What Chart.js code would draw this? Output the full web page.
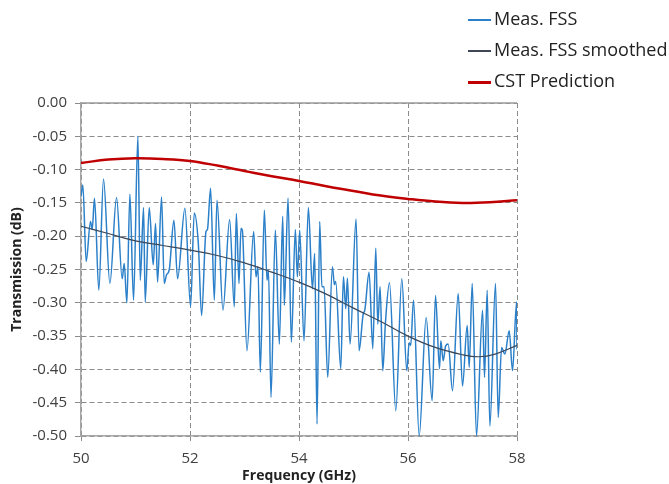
<!DOCTYPE html>
<html>
<head>
<meta charset="utf-8">
<script src="https://cdn.jsdelivr.net/npm/chart.js@4"></script>
<style>
  html, body { margin: 0; padding: 0; background: #fff; }
  #wrap { position: relative; width: 669px; height: 484px; }
  #legend { position: absolute; left: 468px; top: 3px; font-family: "Open Sans", sans-serif; font-size: 18px; color: #222; }
  #legend div { height: 31px; line-height: 30px; white-space: nowrap; }
  #legend span.sw { display: inline-block; width: 23px; vertical-align: middle; margin-right: 3px; }
</style>
</head>
<body>
<div id="wrap">
  <canvas id="chart" width="669" height="484"></canvas>
  <div id="legend"></div>
</div>
<script>
const measFreq = [
  50.000, 50.034, 50.095, 50.174, 50.205, 50.248, 50.327, 50.413, 50.530, 50.652,
  50.756, 50.793, 50.842, 50.897, 50.964, 51.044, 51.087, 51.148, 51.178, 51.252,
  51.325, 51.368, 51.405, 51.478, 51.527, 51.570, 51.620, 51.705, 51.772, 51.907,
  52.011, 52.078, 52.152, 52.213, 52.293, 52.320, 52.378, 52.446, 52.495, 52.605,
  52.727, 52.813, 52.850, 52.899, 52.935, 52.960, 53.045, 53.168, 53.211, 53.247,
  53.290, 53.364, 53.413, 53.440, 53.486, 53.566, 53.639, 53.701, 53.731, 53.799,
  53.860, 53.933, 53.970, 54.013, 54.092, 54.172, 54.246, 54.288, 54.331, 54.380,
  54.420, 54.460, 54.527, 54.613, 54.650, 54.674, 54.766, 54.815, 54.858, 54.888,
  54.937, 55.047, 55.102, 55.180, 55.205, 55.286, 55.354, 55.409, 55.445, 55.488,
  55.537, 55.586, 55.660, 55.776, 55.886, 55.978, 56.021, 56.050, 56.101, 56.205,
  56.333, 56.443, 56.505, 56.578, 56.602, 56.645, 56.690, 56.737, 56.817, 56.921,
  57.000, 57.086, 57.123, 57.178, 57.257, 57.368, 57.404, 57.453, 57.502, 57.606,
  57.655, 57.717, 57.778, 57.857, 57.918, 57.992, 58.000
];
const measFss = [
  -0.140, -0.123, -0.238, -0.178, -0.190, -0.143, -0.281, -0.114, -0.271, -0.142,
  -0.264, -0.241, -0.300, -0.137, -0.296, -0.050, -0.266, -0.157, -0.299, -0.157,
  -0.243, -0.181, -0.269, -0.141, -0.271, -0.258, -0.250, -0.176, -0.264, -0.158,
  -0.306, -0.165, -0.210, -0.319, -0.193, -0.190, -0.128, -0.296, -0.146, -0.311,
  -0.175, -0.306, -0.166, -0.271, -0.188, -0.191, -0.372, -0.193, -0.261, -0.246,
  -0.404, -0.161, -0.266, -0.251, -0.442, -0.191, -0.362, -0.170, -0.304, -0.143,
  -0.359, -0.190, -0.261, -0.191, -0.357, -0.157, -0.279, -0.226, -0.482, -0.178,
  -0.276, -0.276, -0.412, -0.246, -0.273, -0.268, -0.399, -0.261, -0.309, -0.263,
  -0.362, -0.174, -0.372, -0.316, -0.312, -0.254, -0.369, -0.218, -0.332, -0.276,
  -0.402, -0.330, -0.270, -0.462, -0.264, -0.402, -0.360, -0.364, -0.296, -0.500,
  -0.322, -0.447, -0.289, -0.399, -0.357, -0.387, -0.365, -0.362, -0.432, -0.286,
  -0.425, -0.334, -0.397, -0.271, -0.500, -0.311, -0.412, -0.281, -0.485, -0.271,
  -0.472, -0.367, -0.377, -0.342, -0.402, -0.299, -0.370
];

// smoothed measurement
const smoothFreq = [50, 50.5, 51, 51.5, 52, 52.5, 53, 53.5, 54, 54.5, 55, 55.5, 56, 56.5, 57, 57.3, 57.6, 58];
const smoothFss  = [-0.185, -0.196, -0.207, -0.214, -0.221, -0.229, -0.240, -0.254, -0.269, -0.287, -0.308, -0.328, -0.350, -0.367, -0.378, -0.381, -0.377, -0.364];

// simulation
const cstFreq = [50, 50.5, 51, 51.5, 52, 52.5, 53, 53.5, 54, 54.5, 55, 55.5, 56, 56.5, 57, 57.5, 58];
const cstPred = [-0.090, -0.085, -0.083, -0.084, -0.087, -0.094, -0.102, -0.110, -0.117, -0.125, -0.132, -0.139, -0.144, -0.148, -0.150, -0.149, -0.146];

const seriesNames = ["Meas. FSS", "Meas. FSS smoothed", "CST Prediction"];
const seriesColors = ["#2b80c9", "#3d4758", "#c00000"];

const toPoints = (xs, ys) => xs.map((x, i) => ({ x: x, y: ys[i] }));

// top frame line of the plot area (solid, not dashed like the grid)
const frameTop = {
  id: 'frameTop',
  afterDraw(chart) {
    const { ctx, chartArea } = chart;
    ctx.save();
    ctx.strokeStyle = '#9a9a9a';
    ctx.lineWidth = 1.5;
    ctx.beginPath();
    ctx.moveTo(chartArea.left, chartArea.top);
    ctx.lineTo(chartArea.right, chartArea.top);
    ctx.stroke();
    ctx.restore();
  }
};

const font = { family: '"Open Sans", sans-serif', size: 15 };
const titleFont = { family: '"Open Sans", sans-serif', size: 14, weight: 'bold' };

new Chart(document.getElementById('chart').getContext('2d'), {
  type: 'line',
  data: {
    datasets: [
      { label: seriesNames[0], data: toPoints(measFreq, measFss), borderColor: seriesColors[0], borderWidth: 1.5, cubicInterpolationMode: 'monotone', pointRadius: 0, order: 3 },
      { label: seriesNames[1], data: toPoints(smoothFreq, smoothFss), borderColor: seriesColors[1], borderWidth: 1.2, tension: 0.4, pointRadius: 0, order: 2 },
      { label: seriesNames[2], data: toPoints(cstFreq, cstPred), borderColor: seriesColors[2], borderWidth: 2.5, tension: 0.4, pointRadius: 0, order: 1 }
    ]
  },
  options: {
    responsive: false,
    animation: false,
    layout: { padding: { left: 0, right: 152, top: 103, bottom: 0 } },
    plugins: { legend: { display: false }, tooltip: { enabled: false } },
    scales: {
      x: {
        type: 'linear', min: 50, max: 58,
        afterFit(scale) { scale.height = 48; },
        ticks: { stepSize: 2, font: font, color: '#404040', padding: 9 },
        grid: { color: '#8a8a8a', lineWidth: 1, tickLength: 5 },
        border: { display: true, color: '#a6a6a6', width: 1.5, dash: [5, 3] },
        title: { display: true, text: 'Frequency (GHz)', font: titleFont, color: '#222', padding: { top: 0, bottom: 0 } }
      },
      y: {
        min: -0.5, max: 0,
        afterFit(scale) { scale.width = 81; },
        ticks: { stepSize: 0.05, font: font, color: '#404040', padding: 8, callback: v => v.toFixed(2) },
        grid: { color: '#8a8a8a', lineWidth: 1, tickLength: 6 },
        border: { display: true, color: '#a6a6a6', width: 1.5, dash: [5, 3] },
        title: { display: true, text: 'Transmission (dB)', font: titleFont, color: '#222', padding: { top: 9, bottom: 0 } }
      }
    }
  },
  plugins: [frameTop]
});

// legend as html text
const legend = document.getElementById('legend');
seriesNames.forEach((name, i) => {
  const row = document.createElement('div');
  const sw = document.createElement('span');
  sw.className = 'sw';
  sw.style.borderTop = (i === 2 ? 3 : 2) + 'px solid ' + seriesColors[i];
  row.appendChild(sw);
  row.appendChild(document.createTextNode(name));
  legend.appendChild(row);
});
</script>
</body>
</html>
